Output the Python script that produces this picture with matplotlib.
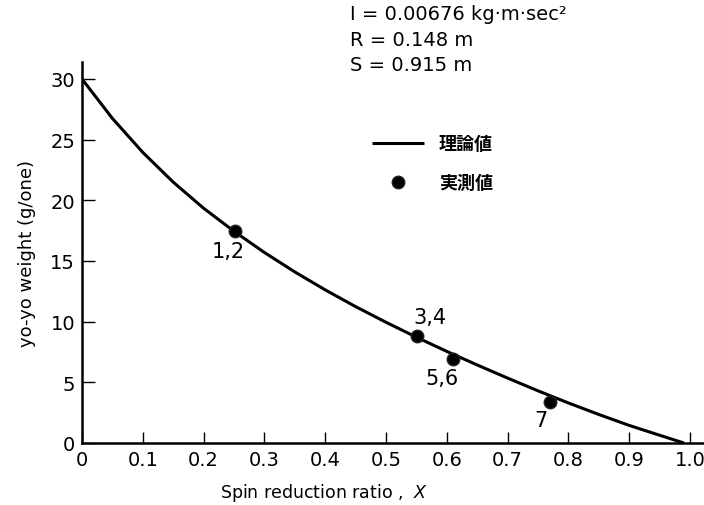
import matplotlib
matplotlib.use("Agg")
import matplotlib.pyplot as plt

plt.rcParams['font.family'] = ['DejaVu Sans', 'Noto Sans CJK JP']

# theoretical curve
curve_x = [0.0, 0.05, 0.1, 0.15, 0.2, 0.25, 0.3, 0.35, 0.4, 0.45, 0.5,
           0.55, 0.6, 0.65, 0.7, 0.75, 0.8, 0.85, 0.9, 0.95, 0.99]
curve_y = [30.0, 26.75, 23.95, 21.5, 19.35, 17.45, 15.7, 14.1, 12.62,
           11.24, 9.95, 8.72, 7.55, 6.43, 5.35, 4.3, 3.3, 2.35, 1.45,
           0.64, 0.0]

# measured values
meas_x = [0.252, 0.551, 0.610, 0.770]
meas_y = [17.5, 8.8, 6.95, 3.4]
meas_labels = ['1,2', '3,4', '5,6', '7']

x_ticks = [0, 0.1, 0.2, 0.3, 0.4, 0.5, 0.6, 0.7, 0.8, 0.9, 1.0]
x_ticklabels = ['0', '0.1', '0.2', '0.3', '0.4', '0.5', '0.6', '0.7',
                '0.8', '0.9', '1.0']
y_ticks = [0, 5, 10, 15, 20, 25, 30]

params = ['I = 0.00676 kg·m·sec²', 'R = 0.148 m', 'S = 0.915 m']

fig = plt.figure(figsize=(7.04, 5.06), dpi=100)
ax = fig.add_axes([82 / 704, 62 / 506, 622 / 704, 381 / 506])

line, = ax.plot(curve_x, curve_y, color='black', lw=2.2,
                solid_capstyle='butt', solid_joinstyle='round')
dots, = ax.plot(meas_x, meas_y, 'o', color='black', ms=9, mec='#222222',
                linestyle='none')

offsets = [(-5, -15), (9, 14), (-8, -14), (-7, -13)]
for x, y, lab, off in zip(meas_x, meas_y, meas_labels, offsets):
    ax.annotate(lab, (x, y), xytext=off, textcoords='offset points',
                ha='center', va='center', fontsize=15)

ax.set_xlim(0, 1.023)
ax.set_ylim(0, 31.4)
ax.set_xticks(x_ticks)
ax.set_xticklabels(x_ticklabels)
ax.set_yticks(y_ticks)
ax.tick_params(axis='both', direction='in', width=1.0, labelsize=14,
               color='black')
ax.tick_params(axis='x', length=8, pad=5)
ax.tick_params(axis='y', length=9.5, pad=5)

for side in ('top', 'right'):
    ax.spines[side].set_visible(False)
for side in ('left', 'bottom'):
    ax.spines[side].set_linewidth(1.8)

ax.set_xlabel('Spin reduction ratio ,  $X$', fontsize=12.5)
ax.xaxis.set_label_coords(242 / 622, -38 / 381)
ax.set_ylabel('yo-yo weight (g/one)', fontsize=13, labelpad=10)

for i, txt in enumerate(params):
    fig.text(350 / 704, 1 - (20 + 25.5 * i) / 506, txt, fontsize=14,
             ha='left', va='baseline')

leg = ax.legend([line, dots], ['理論値', '実測値'], loc='upper left',
                bbox_to_anchor=(372 / 704, 1 - 135 / 506),
                bbox_transform=fig.transFigure, frameon=False,
                borderpad=0, borderaxespad=0, handlelength=2.9,
                handletextpad=0.8, labelspacing=1.1,
                prop={'family': 'Noto Sans CJK JP', 'size': 13,
                      'weight': 'bold'})

fig.savefig('out.png', dpi=100)
